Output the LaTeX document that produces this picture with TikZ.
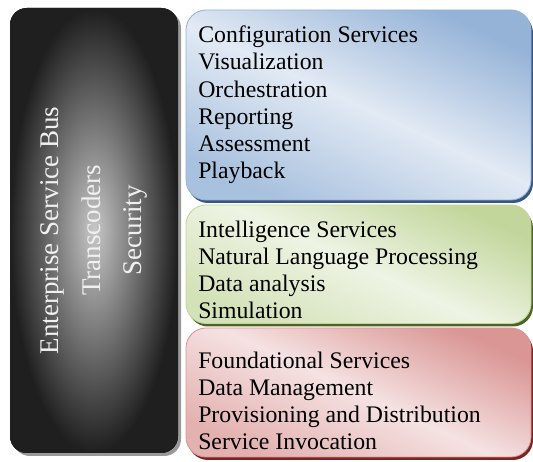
\documentclass[tikz,border=0pt]{standalone}
\usepackage{fontspec}
\setmainfont{Liberation Serif}

\definecolor{cfgblue}{RGB}{149,179,215}
\definecolor{cfglight}{RGB}{226,234,244}
\definecolor{cfgdark}{RGB}{56,86,128}
\definecolor{intgreen}{RGB}{194,214,155}
\definecolor{intlight}{RGB}{238,244,228}
\definecolor{intdark}{RGB}{79,98,40}
\definecolor{fndred}{RGB}{217,150,148}
\definecolor{fndlight}{RGB}{245,226,226}
\definecolor{fnddark}{RGB}{120,38,36}

\begin{document}
\begin{tikzpicture}[
    layer/.style = {rounded corners = 0.5cm, line width = 0.6pt},
    layer text/.style = {anchor = north west, inner sep = 0pt, align = left,
      font = \fontsize{16.9}{19.35}\selectfont},
  ]
  \useasboundingbox (0cm, 0cm) rectangle (13.325cm, 11.55cm);

  % bus column
  \fill [black!40, rounded corners = 0.42cm] 
    (0.325cm, 0.15cm) rectangle (4.525cm, 11.275cm);
  \fill [rounded corners = 0.42cm, inner color = black!22, outer color = black!88] 
    (0.25cm, 0.225cm) rectangle (4.45cm, 11.35cm);
  \node (bus) at (2.35cm, 5.79cm) [rotate = 90, align = center, text = black!6,
    font = \fontsize{19.2}{29.2}\selectfont] 
    {Enterprise Service Bus\\Transcoders\\Security};

  % configuration layer
  \fill [cfgdark, layer] (4.7cm, 6.475cm) rectangle (13.325cm, 11.225cm);
  \draw [layer, draw = cfgblue, top color = cfgblue, 
    bottom color = cfgblue!75!cfglight, middle color = cfglight, shading angle = -25] 
    (4.65cm, 6.55cm) rectangle (13.275cm, 11.3cm);
  \node (config) at (4.95cm, 10.91cm) [layer text] 
    {Configuration Services\\Visualization\\Orchestration\\Reporting\\Assessment\\Playback};

  % intelligence layer
  \fill [intdark, layer] (4.7cm, 3.3875cm) rectangle (13.325cm, 6.35cm);
  \draw [layer, draw = intgreen, top color = intgreen, 
    bottom color = intgreen!60!intlight, middle color = intlight, shading angle = -25] 
    (4.65cm, 3.4625cm) rectangle (13.275cm, 6.425cm);
  \node (intel) at (4.95cm, 6.035cm) [layer text] 
    {Intelligence Services\\Natural Language Processing\\Data analysis\\Simulation};

  % foundational layer
  \fill [fnddark, layer] (4.7cm, 0.05cm) rectangle (13.325cm, 3.275cm);
  \draw [layer, draw = fndred, top color = fndred, 
    bottom color = fndred!65!fndlight, middle color = fndlight, shading angle = -25] 
    (4.65cm, 0.125cm) rectangle (13.275cm, 3.35cm);
  \node (found) at (4.95cm, 2.76cm) [layer text] 
    {Foundational Services\\Data Management\\Provisioning and Distribution\\Service Invocation};
\end{tikzpicture}
\end{document}
